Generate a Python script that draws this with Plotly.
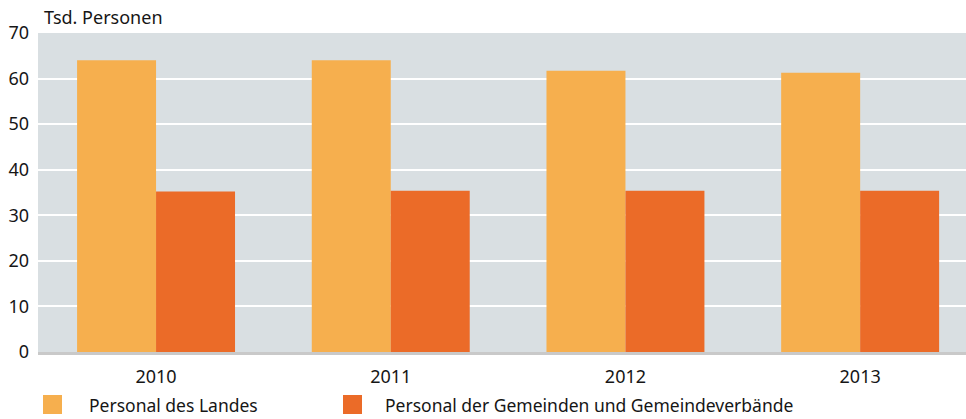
import plotly.graph_objects as go

# Beschäftigte (Tsd. Personen) nach Jahr
years = ["2010", "2011", "2012", "2013"]
landes = [64.0, 64.0, 61.7, 61.3]
gemeinden = [35.2, 35.4, 35.4, 35.4]

series_names = ["Personal des Landes", "Personal der Gemeinden und Gemeindeverbände"]
colors = ["#f6af4e", "#eb6b28"]

FONT = "'Noto Sans', 'Source Sans Pro', Lato, sans-serif"
TEXT = "#161616"

fig = go.Figure()
fig.add_trace(go.Bar(x=years, y=landes, name=series_names[0],
                     marker=dict(color=colors[0], line=dict(width=0)),
                     showlegend=False))
fig.add_trace(go.Bar(x=years, y=gemeinden, name=series_names[1],
                     marker=dict(color=colors[1], line=dict(width=0)),
                     showlegend=False))

fig.update_layout(
    width=966, height=419,
    margin=dict(l=38, r=0, t=33, b=67),
    paper_bgcolor="white",
    plot_bgcolor="#d9dfe2",
    barmode="group",
    bargap=0.327,
    bargroupgap=0,
    font=dict(family=FONT, size=17.5, color=TEXT),
    xaxis=dict(
        type="category",
        range=[-0.503, 3.451],
        showgrid=False,
        showline=True, linecolor="#c9c9c9", linewidth=3,
        ticks="", ticklabelstandoff=6,
        tickfont=dict(size=18),
    ),
    yaxis=dict(
        range=[0, 70],
        tickvals=[0, 10, 20, 30, 40, 50, 60, 70],
        showgrid=True, gridcolor="white", gridwidth=2,
        zeroline=False,
        ticks="", ticklabelstandoff=8,
        tickfont=dict(size=18),
    ),
)

# Achsentitel
fig.add_annotation(text="Tsd. Personen", xref="paper", yref="paper",
                   x=(42 - 38) / 928, y=1.0, xanchor="left", yanchor="bottom", yshift=2,
                   showarrow=False, font=dict(size=18, family=FONT, color=TEXT))

# Legende
legend_box_x = [43, 343]
legend_text_x = [87, 383]
for i, name in enumerate(series_names):
    x0 = legend_box_x[i]
    fig.add_shape(type="rect", xref="paper", yref="paper",
                  x0=(x0 - 38) / 928, x1=(x0 + 19 - 38) / 928,
                  y0=-(405 - 352 + 9) / 319, y1=-(405 - 352 - 10) / 319,
                  fillcolor=colors[i], line=dict(width=0))
    fig.add_annotation(text=name, xref="paper", yref="paper",
                       x=(legend_text_x[i] - 38) / 928, y=-(405 - 352) / 319,
                       xanchor="left", yanchor="middle", showarrow=False,
                       font=dict(size=17.5, family=FONT, color=TEXT))

fig.write_html("out.html")
